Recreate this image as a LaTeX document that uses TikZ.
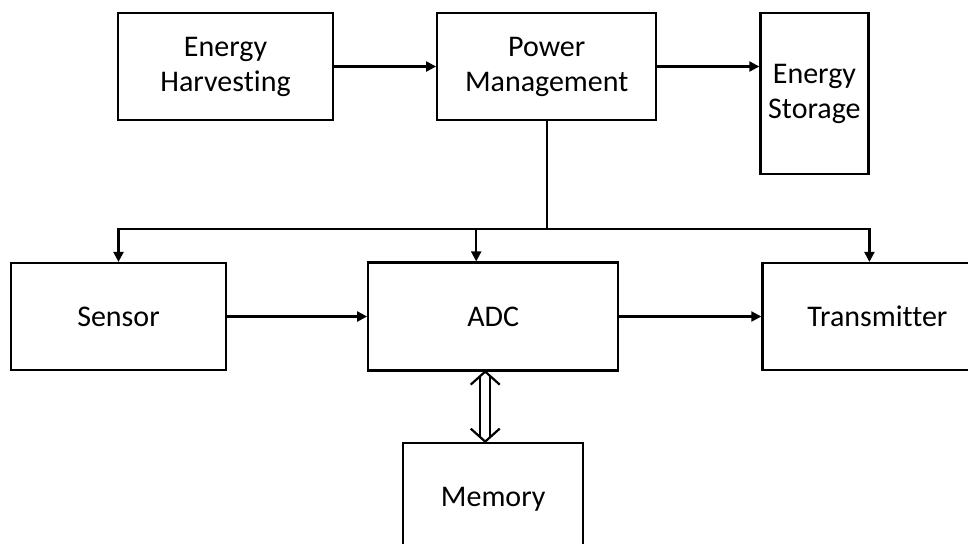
\documentclass[tikz,border=0pt]{standalone}
\usepackage{fontspec}
\setmainfont{Carlito}[Ligatures=CommonOff]
\usetikzlibrary{arrows.meta,positioning,calc}

\begin{document}
\begin{tikzpicture}[
    x=0.5pt, y=-0.5pt,
    box/.style={draw, rectangle, line width=1.1pt, align=center, inner sep=0pt,
                font=\fontsize{15}{17.5}\selectfont},
    line/.style={line width=1.1pt},
    arr/.style={line width=1.1pt, -{Triangle[length=5pt,width=5pt]}}
]
    \useasboundingbox (0,0) rectangle (968,543);

    % supply chain
    \node[box, minimum width=107.5pt, minimum height=53.5pt] (harvest) at (225.5,66.5) {Energy\\Harvesting};
    \node[box, minimum width=109.5pt, minimum height=53.5pt, right=51pt of harvest] (power) {Power\\Management};
    \node[box, minimum width=54pt, minimum height=80.5pt, right=51pt of power.north east, anchor=north west] (storage) {Energy\\Storage};

    % signal chain
    \node[box, minimum width=107.5pt, minimum height=53.5pt] (sensor) at (118.5,316.5) {Sensor};
    \node[box, minimum width=125pt, minimum height=54pt, right=70pt of sensor] (adc) {ADC};
    \node[box, minimum width=115pt, minimum height=53.5pt, right=71pt of adc] (tx) {Transmitter};
    \node[box, minimum width=90pt, minimum height=57pt, below=35pt of adc] (memory) {Memory};

    \draw[arr] (harvest) -- (power);
    \draw[arr] (power.east) -- (power.east -| storage.west);

    % power bus
    \coordinate (split) at ([yshift=-54pt]power.south);
    \coordinate (adcin) at ([xshift=-8.5pt]adc.north);
    \coordinate (txin) at ([xshift=-4pt]tx.north);
    \draw[line] (power.south) -- (split);
    \draw[arr] (split) -| (sensor.north);
    \draw[arr] (split) -| (txin);
    \draw[arr] (split -| adcin) -- (adcin);

    \draw[arr] (sensor) -- (adc);
    \draw[arr] (adc) -- (tx);

    % memory link
    \coordinate (mtop) at ([xshift=-4pt]adc.south);
    \coordinate (mbot) at (mtop |- memory.north);
    \draw[line] ([xshift=-7.25pt,yshift=-6.5pt]mtop) -- (mtop) -- ([xshift=7.25pt,yshift=-6.5pt]mtop);
    \draw[line] ([xshift=-7.25pt,yshift=6.5pt]mbot) -- (mbot) -- ([xshift=7.25pt,yshift=6.5pt]mbot);
    \draw[line] ([xshift=-2.5pt,yshift=-2.3pt]mtop) -- ([xshift=-2.5pt,yshift=2.3pt]mbot);
    \draw[line] ([xshift=2.5pt,yshift=-2.3pt]mtop) -- ([xshift=2.5pt,yshift=2.3pt]mbot);
\end{tikzpicture}
\end{document}
